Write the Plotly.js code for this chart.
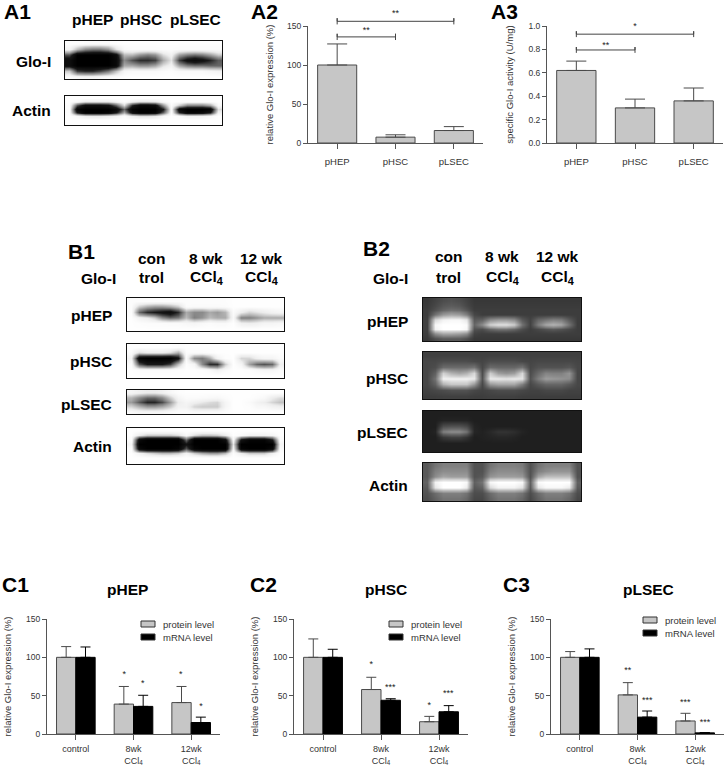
<!DOCTYPE html>
<html>
<head>
<meta charset="utf-8">
<script src="https://cdn.plot.ly/plotly-3.0.1.min.js"></script>
<style>html,body{margin:0;padding:0;background:#fff}</style>
</head>
<body>
<div id="chart" style="width:725px;height:767px"></div>
<script>
// bar chart values
const cellTypes = ['pHEP', 'pHSC', 'pLSEC'];
const treatmentTicks = ['control', '8wk<br>CCl<sub>4</sub>', '12wk<br>CCl<sub>4</sub>'];
const groupIndex = [0, 1, 2];

const a2Values = [100, 7.5, 16];
const a2Errors = [27, 3, 5];
const a3Values = [0.62, 0.30, 0.36];
const a3Errors = [0.08, 0.075, 0.11];

const c1Protein = [100, 39, 41];
const c1ProteinErr = [14, 23, 21];
const c1Mrna = [100, 36, 15];
const c1MrnaErr = [13.5, 14.5, 7];
const c2Protein = [100, 58, 16];
const c2ProteinErr = [24, 16, 7];
const c2Mrna = [100, 44, 29];
const c2MrnaErr = [10.5, 2, 8];
const c3Protein = [100, 51, 17];
const c3ProteinErr = [7.5, 16, 10];
const c3Mrna = [100, 22, 1.5];
const c3MrnaErr = [11, 8, 0.3];

// significance marks: [x, y, label]
const a2Stars = [[1, 165.5, '**'], [0.5, 143.5, '**']];
const a3Stars = [[1, 0.99, '*'], [0.5, 0.835, '**']];
const c1Stars = [[0.84, 77, '*'], [1.16, 65, '*'], [1.82, 77, '*'], [2.17, 36, '*']];
const c2Stars = [[0.83, 90, '*'], [1.16, 60, '***'], [1.83, 37, '*'], [2.16, 52, '***']];
const c3Stars = [[0.83, 82, '**'], [1.17, 44, '***'], [1.83, 41, '***'], [2.17, 15, '***']];

// brackets: [from, to, level]
const a2Brackets = [[0, 1, 136], [0, 2, 156]];
const a3Brackets = [[0, 1, 0.795], [0, 2, 0.93]];

// blot densities, 0 white .. 100 black, 20 columns across the lanes
const a1Glo = [
  [2,2,3,3,3,3,2,1,1,1,1,1,1,1,1,1,1,1,1,1],
  [8,30,45,50,50,42,18,5,3,3,3,3,2,2,3,3,3,3,3,3],
  [60,100,100,100,100,100,85,30,30,42,48,42,20,10,38,48,52,48,38,25],
  [85,100,100,100,100,100,90,45,60,70,70,65,35,18,65,82,88,82,72,58],
  [85,100,100,100,100,100,90,35,35,42,42,36,18,10,36,48,52,52,55,55],
  [25,65,70,70,62,50,28,8,5,5,5,5,3,2,5,5,5,5,8,10],
  [3,6,8,8,6,4,3,2,1,1,1,1,1,1,1,1,1,1,1,1]
];
const a1Actin = [
  [1,1,1,1,1,1,1,1,1,1,1,1,1,1,1,1,1,1,1,1],
  [1,5,15,15,15,15,8,2,10,18,18,15,5,1,1,2,2,2,2,1],
  [2,60,85,85,85,80,55,20,70,90,90,85,40,3,25,45,45,45,35,5],
  [3,95,100,100,100,100,90,55,95,100,100,100,75,6,90,100,100,100,95,20],
  [2,75,100,100,100,95,75,35,85,100,100,95,55,4,70,95,95,90,75,10],
  [1,5,12,15,15,12,8,3,12,18,18,15,5,1,3,8,8,8,5,1],
  [1,1,1,1,1,1,1,1,1,1,1,1,1,1,1,1,1,1,1,1],
  [1,1,1,1,1,1,1,1,1,1,1,1,1,1,1,1,1,1,1,1]
];
const b1Hep = [
  [2,2,2,2,2,2,2,2,2,2,2,2,2,1,1,1,1,1,1,1],
  [2,25,35,40,40,35,25,3,4,4,4,4,3,1,1,1,1,1,1,1],
  [2,55,70,75,80,85,70,35,45,45,35,40,32,4,14,22,18,14,10,8],
  [1,10,15,25,45,55,50,30,48,42,30,35,35,6,48,48,42,35,35,35],
  [1,2,3,3,3,4,4,6,8,5,3,5,5,1,12,14,12,8,8,6],
  [1,1,1,1,1,1,1,1,1,1,1,1,1,1,1,1,1,1,1,1]
];
const b1Hsc = [
  [1,1,1,1,1,1,2,1,1,1,1,1,1,1,1,1,1,1,1,1],
  [3,20,15,15,15,20,35,3,3,3,2,1,1,1,1,1,1,1,1,1],
  [10,95,100,100,100,100,80,5,45,50,35,10,2,1,22,22,12,8,8,3],
  [3,60,75,75,75,65,30,2,8,45,70,70,25,1,8,38,55,60,55,12],
  [1,3,3,3,3,3,2,1,1,2,5,12,5,1,1,2,5,8,8,3],
  [1,1,1,1,1,1,1,1,1,1,1,1,1,1,1,1,1,1,1,1]
];
const b1Lsec = [
  [8,12,15,15,12,6,2,1,1,1,1,1,1,1,1,1,1,1,1,1],
  [32,45,55,55,45,25,8,3,3,4,5,6,3,1,1,1,3,5,14,20],
  [40,58,72,72,62,40,14,8,12,16,20,22,8,1,1,4,10,14,22,28],
  [22,32,40,40,35,25,10,10,22,25,25,25,8,1,1,2,6,6,10,12],
  [5,8,8,8,8,5,3,3,5,5,5,5,3,1,1,1,1,1,1,1]
];
const b1Actin = [
  [1,1,1,1,1,1,1,1,1,1,1,1,1,1,1,1,1,1,1,1],
  [1,15,25,25,25,25,20,5,20,28,28,25,15,1,5,10,10,10,8,1],
  [3,90,100,100,100,100,100,55,100,100,100,100,85,8,80,95,95,95,75,3],
  [8,100,100,100,100,100,100,80,100,100,100,100,100,18,100,100,100,100,100,8],
  [3,90,100,100,100,100,95,60,95,100,100,100,100,10,95,100,100,100,90,4],
  [1,10,20,25,30,30,25,10,25,35,40,40,30,2,15,25,25,25,12,1],
  [1,1,1,1,1,1,1,1,1,1,1,1,1,1,1,1,1,1,1,1],
  [1,1,1,1,1,1,1,1,1,1,1,1,1,1,1,1,1,1,1,1]
];
const b2Hep = [
  [78,74,70,68,70,74,78,78,78,78,78,78,78,78,78,78,78,78,78,78],
  [77,72,66,64,66,72,77,77,77,77,77,77,77,77,77,77,77,77,77,77],
  [76,68,60,56,58,66,76,76,76,76,76,76,76,76,76,76,76,76,76,76],
  [76,55,40,35,38,50,72,76,76,76,76,76,76,76,76,76,76,76,76,76],
  [75,15,5,3,3,10,65,62,45,40,40,45,65,74,60,55,50,52,65,76],
  [75,3,0,0,0,2,60,45,18,12,12,20,55,74,50,35,30,35,55,76],
  [75,5,0,0,0,3,68,70,60,55,55,60,70,76,72,68,65,68,72,76],
  [76,45,35,35,38,45,74,76,76,76,76,76,76,76,76,76,76,76,76,76],
  [78,70,65,65,65,70,78,78,78,78,78,78,78,78,78,78,78,78,78,78]
];
const b2Hsc = [
  [75,75,75,75,75,75,75,75,75,75,75,75,75,75,75,75,75,75,75,75],
  [72,72,70,70,70,70,72,73,70,70,70,70,72,73,72,72,72,72,72,73],
  [72,70,58,58,58,58,55,72,58,60,60,60,55,72,68,68,68,68,66,72],
  [72,62,18,30,35,30,15,70,20,38,42,38,15,70,58,48,50,50,42,72],
  [72,55,5,5,5,5,8,68,8,8,10,8,10,68,50,38,40,42,45,72],
  [72,62,30,22,22,22,40,72,40,35,35,35,50,72,65,60,60,60,65,72],
  [74,72,70,68,68,68,72,74,72,70,70,70,72,74,74,72,72,72,74,74],
  [76,76,75,75,75,75,76,76,75,75,75,75,76,76,76,76,76,76,76,76]
];
const b2Lsec = [
  [88,88,88,88,88,88,88,88,88,88,88,88,88,88,88,88,88,88,88,88],
  [88,88,86,86,86,86,88,88,88,88,88,88,88,88,88,88,88,88,88,88],
  [88,88,70,68,68,72,86,88,88,88,88,88,88,88,88,88,88,88,88,88],
  [88,86,50,45,45,55,85,87,84,80,80,82,86,88,88,88,88,88,88,88],
  [88,88,78,75,75,80,88,87,86,85,85,86,88,88,88,88,88,88,88,88],
  [88,88,88,88,88,88,88,88,88,88,88,88,88,88,88,88,88,88,88,88],
  [88,88,88,88,88,88,88,88,88,88,88,88,88,88,88,88,88,88,88,88]
];
const b2Actin = [
  [65,55,50,50,50,50,68,68,55,50,50,50,52,68,55,50,50,50,50,68],
  [65,50,45,45,45,45,68,68,50,45,45,45,48,68,50,45,42,42,42,68],
  [65,45,35,38,38,38,68,65,42,38,38,38,40,68,35,25,25,25,25,68],
  [62,5,0,0,0,3,62,55,3,0,0,0,3,62,2,0,0,0,0,62],
  [65,10,0,0,0,8,66,62,15,5,5,5,12,65,10,3,3,3,8,65],
  [68,58,50,50,50,55,70,70,58,50,50,50,55,70,58,50,50,50,55,70],
  [70,62,55,55,55,60,72,72,62,55,55,55,60,72,62,55,55,55,60,72]
];

const W = 725, H = 767;
const BAR_GREY = '#c6c6c6', EDGE = '#4a4a4a', AXIS = '#555555', TEXT = '#333333';
const SANS = 'Liberation Sans, Arial, sans-serif';
// western blots have hard edged bands, gels keep the plain ramp
const BLOT_SCALE = [[0, '#ffffff'], [0.15, '#ececec'], [0.5, '#7a7a7a'], [0.75, '#181818'], [1, '#000000']];
const GEL_SCALE = [[0, '#ffffff'], [1, '#000000']];

const traces = [];
const layout = {
  width: W, height: H,
  margin: {l: 0, r: 0, t: 0, b: 0},
  paper_bgcolor: '#fff', plot_bgcolor: 'rgba(0,0,0,0)',
  showlegend: false,
  barmode: 'group', bargap: 0.33, bargroupgap: 0,
  font: {family: SANS, color: TEXT},
  annotations: [], shapes: []
};

let axisCount = 0;
function addAxes (box, xOpts, yOpts) {
  axisCount += 1;
  const suffix = axisCount === 1 ? '' : axisCount;
  layout['xaxis' + suffix] = Object.assign({
    domain: [box[0] / W, box[1] / W], anchor: 'y' + suffix, fixedrange: true
  }, xOpts);
  layout['yaxis' + suffix] = Object.assign({
    domain: [1 - box[3] / H, 1 - box[2] / H], anchor: 'x' + suffix, fixedrange: true
  }, yOpts);
  return {x: 'x' + suffix, y: 'y' + suffix};
}

function addText (text, x, y, size, bold, anchor, color) {
  layout.annotations.push({
    text: bold ? '<b>' + text + '</b>' : text,
    x: x / W, y: 1 - y / H, xref: 'paper', yref: 'paper',
    xanchor: anchor || 'center', yanchor: 'middle', showarrow: false,
    font: {family: SANS, size: size, color: color || '#000'}
  });
}

// one blot panel is a smoothed heatmap with a black frame
function addBlot (z, box, scale) {
  const frame = {showline: true, mirror: true, linecolor: '#111', linewidth: 1,
    showticklabels: false, ticks: '', showgrid: false, zeroline: false};
  const ax = addAxes(box,
    Object.assign({range: [-0.5, z[0].length - 0.5]}, frame),
    Object.assign({range: [z.length - 0.5, -0.5]}, frame));
  traces.push({
    type: 'heatmap', z: z, xaxis: ax.x, yaxis: ax.y, zsmooth: 'best',
    zmin: 0, zmax: 100, showscale: false, hoverinfo: 'skip',
    colorscale: scale
  });
}

function addBarAxes (box, tickLabels, yRange, yTicks, yTitle, standoff, labelGap, xFontSize) {
  return addAxes(box, {
    range: [-0.5, 2.5], tickvals: groupIndex, ticktext: tickLabels,
    showline: true, linecolor: AXIS, linewidth: 1, ticks: 'outside', ticklen: 5,
    tickcolor: AXIS, showgrid: false, zeroline: false, ticklabelstandoff: labelGap,
    tickfont: {family: SANS, size: xFontSize, color: TEXT}
  }, {
    range: yRange, tickvals: yTicks, tickformat: yRange[1] === 1 ? '.1f' : '',
    showline: true, linecolor: AXIS, linewidth: 1, ticks: 'outside', ticklen: 4,
    tickcolor: AXIS, showgrid: false, zeroline: false,
    tickfont: {family: SANS, size: 8.5, color: TEXT},
    title: {text: yTitle, font: {family: SANS, size: 9.5, color: TEXT}, standoff: standoff}
  });
}

// hidden axes running above the visible ones, for brackets and stars over the top tick
function addOverlayAxes (box, yRange) {
  return addAxes(box, {range: [-0.5, 2.5], visible: false}, {range: yRange, visible: false});
}

function addBars (ax, x, values, errors, fill, edge, capWidth) {
  traces.push({
    type: 'bar', x: x, y: values, xaxis: ax.x, yaxis: ax.y,
    marker: {color: fill, line: {color: edge, width: 1}},
    error_y: {type: 'data', symmetric: false, array: errors,
      arrayminus: values.map(() => 0), color: edge, thickness: 1, width: capWidth}
  });
}

function addStars (ax, stars) {
  traces.push({
    type: 'scatter', mode: 'text', xaxis: ax.x, yaxis: ax.y, cliponaxis: false,
    x: stars.map(s => s[0]), y: stars.map(s => s[1]), text: stars.map(s => s[2]),
    textposition: 'middle center', textfont: {family: SANS, size: 9, color: '#222'},
    hoverinfo: 'skip'
  });
}

function addBrackets (ax, brackets, tip) {
  brackets.forEach((b) => {
    traces.push({
      type: 'scatter', mode: 'lines', xaxis: ax.x, yaxis: ax.y,
      x: [b[0], b[0], b[0], b[1], b[1], b[1]],
      y: [b[2] - tip, b[2] + tip, b[2], b[2], b[2] + tip, b[2] - tip],
      line: {color: '#444', width: 1}, hoverinfo: 'skip'
    });
  });
}

function addKey (left, top1, top2, textX) {
  [[top1, BAR_GREY, 'protein level'], [top2, '#000', 'mRNA level']].forEach((k) => {
    layout.shapes.push({
      type: 'rect', xref: 'paper', yref: 'paper',
      x0: left / W, x1: (left + 14) / W, y0: 1 - k[0] / H, y1: 1 - (k[0] + 6) / H,
      fillcolor: k[1], line: {color: '#333', width: 1}
    });
    addText(k[2], textX, k[0] + 3, 9.5, false, 'left', TEXT);
  });
}

// A1 blots
addBlot(a1Glo, [65, 222, 41, 79], BLOT_SCALE);
addBlot(a1Actin, [65, 222, 96, 125], BLOT_SCALE);
addText('A1', 2, 11, 21, true, 'left');
addText('pHEP', 92, 20, 15.5, true);
addText('pHSC', 141, 20, 15.5, true);
addText('pLSEC', 195, 20, 15.5, true);
addText('Glo-I', 53, 61, 15.5, true, 'right');
addText('Actin', 53, 110, 15.5, true, 'right');

// A2
const a2Axes = addBarAxes([308, 483, 26, 143], cellTypes, [0, 150], [0, 50, 100, 150],
  'relative Glo-I expression (%)', 11, 5, 9.5);
addBars(a2Axes, groupIndex, a2Values, a2Errors, BAR_GREY, EDGE, 10);
const a2Over = addOverlayAxes([308, 483, 0, 143], [0, 183.3]);
addBrackets(a2Over, a2Brackets, 4);
addStars(a2Over, a2Stars);
addText('A2', 249, 11, 21, true, 'left');

// A3
const a3Axes = addBarAxes([547, 723, 26, 143], cellTypes, [0, 1], [0, 0.2, 0.4, 0.6, 0.8, 1],
  'specific Glo-I activity (U/mg)', 13, 5, 9.5);
addBars(a3Axes, groupIndex, a3Values, a3Errors, BAR_GREY, EDGE, 10);
const a3Over = addOverlayAxes([547, 723, 0, 143], [0, 1.222]);
addBrackets(a3Over, a3Brackets, 0.025);
addStars(a3Over, a3Stars);
addText('A3', 489, 11, 21, true, 'left');

// B1 blots
addBlot(b1Hep, [127, 284, 298, 331], BLOT_SCALE);
addBlot(b1Hsc, [127, 284, 344, 378], BLOT_SCALE);
addBlot(b1Lsec, [127, 284, 390, 414], BLOT_SCALE);
addBlot(b1Actin, [127, 284, 428, 464], BLOT_SCALE);
addText('B1', 66, 251, 21, true, 'left');
addText('con', 152, 258, 15.5, true);
addText('trol', 151.5, 277, 15.5, true);
addText('8 wk', 206, 258, 15.5, true);
addText('CCl<sub>4</sub>', 206, 277, 15.5, true);
addText('12 wk', 261, 258, 15.5, true);
addText('CCl<sub>4</sub>', 261, 277, 15.5, true);
addText('Glo-I', 118, 278, 15.5, true, 'right');
addText('pHEP', 114, 315, 15.5, true, 'right');
addText('pHSC', 114, 361, 15.5, true, 'right');
addText('pLSEC', 114, 404, 15.5, true, 'right');
addText('Actin', 114, 446, 15.5, true, 'right');

// B2 gels
addBlot(b2Hep, [423, 581, 298, 341], GEL_SCALE);
addBlot(b2Hsc, [423, 581, 352, 399], GEL_SCALE);
addBlot(b2Lsec, [423, 581, 411, 452], GEL_SCALE);
addBlot(b2Actin, [423, 581, 463, 501], GEL_SCALE);
addText('B2', 361, 248, 21, true, 'left');
addText('con', 449, 257, 15.5, true);
addText('trol', 448, 277, 15.5, true);
addText('8 wk', 502, 257, 15.5, true);
addText('CCl<sub>4</sub>', 502, 277, 15.5, true);
addText('12 wk', 557, 257, 15.5, true);
addText('CCl<sub>4</sub>', 557, 277, 15.5, true);
addText('Glo-I', 410, 278, 15.5, true, 'right');
addText('pHEP', 410, 322, 15.5, true, 'right');
addText('pHSC', 410, 378, 15.5, true, 'right');
addText('pLSEC', 410, 432, 15.5, true, 'right');
addText('Actin', 410, 485, 15.5, true, 'right');

// C1 - C3
const yTicksC = [0, 50, 100, 150];
const c1Axes = addBarAxes([47, 220, 619, 734], treatmentTicks, [0, 150], yTicksC,
  'relative Glo-I expression (%)', 12, 1, 9);
addBars(c1Axes, groupIndex, c1Protein, c1ProteinErr, BAR_GREY, EDGE, 5);
addBars(c1Axes, groupIndex, c1Mrna, c1MrnaErr, '#000', '#000', 5);
addStars(c1Axes, c1Stars);
addKey(141, 621, 634, 161);
addText('C1', 0, 584, 21, true, 'left');
addText('pHEP', 127, 589, 15.5, true);

const c2Axes = addBarAxes([294, 468, 619, 734], treatmentTicks, [0, 150], yTicksC,
  'relative Glo-I expression (%)', 12, 1, 9);
addBars(c2Axes, groupIndex, c2Protein, c2ProteinErr, BAR_GREY, EDGE, 5);
addBars(c2Axes, groupIndex, c2Mrna, c2MrnaErr, '#000', '#000', 5);
addStars(c2Axes, c2Stars);
addKey(389, 621, 634, 409);
addText('C2', 248, 584, 21, true, 'left');
addText('pHSC', 386, 589, 15.5, true);

const c3Axes = addBarAxes([551, 724, 619, 734], treatmentTicks, [0, 150], yTicksC,
  'relative Glo-I expression (%)', 12, 1, 9);
addBars(c3Axes, groupIndex, c3Protein, c3ProteinErr, BAR_GREY, EDGE, 5);
addBars(c3Axes, groupIndex, c3Mrna, c3MrnaErr, '#000', '#000', 5);
addStars(c3Axes, c3Stars);
addKey(643, 617, 630, 663);
addText('C3', 501, 584, 21, true, 'left');
addText('pLSEC', 648, 589, 15.5, true);

Plotly.newPlot('chart', traces, layout, {displayModeBar: false, staticPlot: true});
</script>
</body>
</html>
